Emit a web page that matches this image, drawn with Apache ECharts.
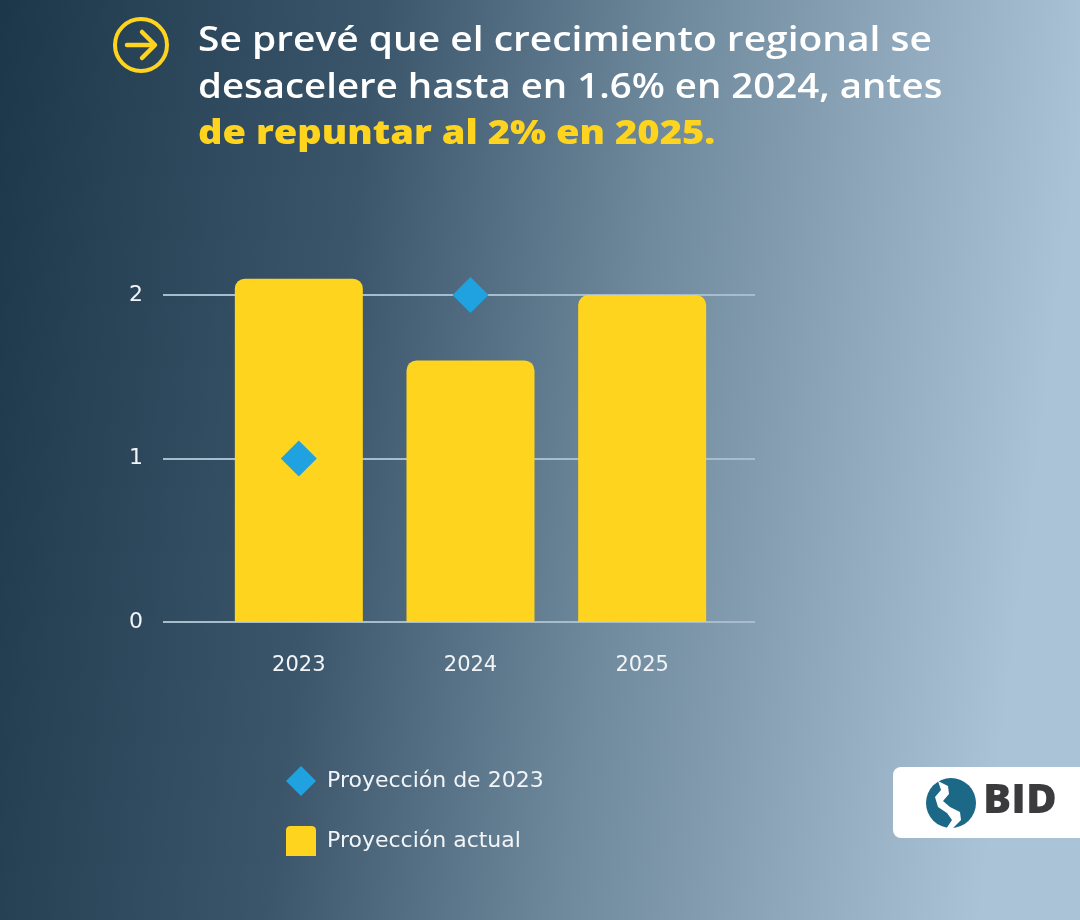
<!DOCTYPE html>
<html>
<head>
<meta charset="utf-8">
<title>Crecimiento regional</title>
<script src="https://cdn.jsdelivr.net/npm/echarts@6/dist/echarts.min.js"></script>
<style>
  html, body { margin: 0; padding: 0; }
  #chart { width: 1080px; height: 920px; }
</style>
</head>
<body>
<div id="chart"></div>
<script>
const categories = ['2023', '2024', '2025']
const proyeccionActual = [2.1, 1.6, 2.0]
const proyeccion2023 = [1.0, 2.0, null]
const titleLines = [
  'Se prevé que el crecimiento regional se',
  'desacelere hasta en 1.6% en 2024, antes',
  'de repuntar al 2% en 2025.'
]

const FONT = '"Open Sans", "Noto Sans", sans-serif'
const LABEL_FONT = '"DejaVu Sans", "Open Sans", sans-serif'
const YELLOW = '#ffd41f'
const BLUE = '#1fa2df'

let myChart = echarts.init(document.getElementById('chart'))

myChart.setOption({
  animation: false,
  textStyle: { fontFamily: LABEL_FONT },
  // grid 0 only carries the long gridlines and y labels, grid 1 carries the bars
  grid: [
    { left: 163, right: 325, top: 295, bottom: 298 },
    { left: 213, right: 352, top: 295, bottom: 298 }
  ],
  xAxis: [
    { gridIndex: 0, type: 'category', data: categories, show: false },
    {
      gridIndex: 1,
      type: 'category',
      data: categories,
      axisLine: { show: false },
      axisTick: { show: false },
      axisLabel: { color: '#f2f5f8', fontSize: 21, fontFamily: LABEL_FONT, margin: 33 }
    }
  ],
  yAxis: [
    {
      gridIndex: 0,
      type: 'value',
      min: 0,
      max: 2,
      interval: 1,
      axisLine: { show: false },
      axisTick: { show: false },
      axisLabel: { color: '#f2f5f8', fontSize: 22, fontFamily: LABEL_FONT, margin: 20 },
      splitLine: { lineStyle: { color: '#a7bccd', width: 2 } }
    },
    { gridIndex: 1, type: 'value', min: 0, max: 2, show: false }
  ],
  legend: {
    orient: 'vertical',
    left: 281,
    top: 761,
    itemGap: 30,
    itemWidth: 30,
    itemHeight: 30,
    textStyle: { color: '#f2f5f8', fontSize: 22, fontFamily: LABEL_FONT, padding: [0, 0, 0, 6] },
    data: [
      { name: 'Proyección de 2023', icon: 'diamond' },
      { name: 'Proyección actual', icon: 'path://M4,0 L22,0 Q26,0 26,4 L26,26 L0,26 L0,4 Q0,0 4,0 Z' }
    ]
  },
  series: [
    {
      name: 'Proyección actual',
      type: 'bar',
      xAxisIndex: 1,
      yAxisIndex: 1,
      data: proyeccionActual,
      barWidth: 128,
      clip: false,
      itemStyle: { color: YELLOW, borderRadius: [10, 10, 0, 0] },
      z: 2
    },
    {
      name: 'Proyección de 2023',
      type: 'scatter',
      xAxisIndex: 1,
      yAxisIndex: 1,
      data: proyeccion2023,
      symbol: 'diamond',
      symbolSize: [36, 36],
      clip: false,
      itemStyle: { color: BLUE, opacity: 1 },
      z: 3
    }
  ],
  graphic: [
    {
      type: 'rect',
      z: -10,
      silent: true,
      shape: { x: 0, y: 0, width: 1080, height: 920 },
      style: {
        fill: new echarts.graphic.LinearGradient(0, 0, 1, 0.15, [
          { offset: 0, color: '#1d374a' },
          { offset: 0.35, color: '#3b566b' },
          { offset: 0.62, color: '#6f899d' },
          { offset: 1, color: '#abc3d6' }
        ])
      }
    },
    // arrow icon
    {
      type: 'circle',
      shape: { cx: 141, cy: 45, r: 26 },
      style: { fill: 'none', stroke: YELLOW, lineWidth: 4 }
    },
    {
      type: 'polyline',
      shape: { points: [[127, 45], [154, 45]] },
      style: { stroke: YELLOW, lineWidth: 4.5, lineCap: 'round' }
    },
    {
      type: 'polyline',
      shape: { points: [[142, 32], [155, 45], [142, 58]] },
      style: { fill: 'none', stroke: YELLOW, lineWidth: 4.5, lineCap: 'round', lineJoin: 'round' }
    },
    // title lines, stretched to the wider face of the original
    {
      type: 'text',
      x: 198,
      y: 24,
      scaleX: 1.145,
      style: { text: titleLines[0], fill: '#ffffff', font: '600 34px ' + FONT, verticalAlign: 'top' }
    },
    {
      type: 'text',
      x: 198,
      y: 71,
      scaleX: 1.13,
      style: { text: titleLines[1], fill: '#ffffff', font: '600 34px ' + FONT, verticalAlign: 'top' }
    },
    {
      type: 'text',
      x: 198,
      y: 117,
      scaleX: 1.12,
      style: { text: titleLines[2], fill: YELLOW, font: '800 34px ' + FONT, verticalAlign: 'top' }
    },
    // BID logo
    {
      type: 'rect',
      shape: { x: 893, y: 767, width: 200, height: 71, r: 8 },
      style: { fill: '#ffffff' }
    },
    {
      type: 'circle',
      shape: { cx: 951, cy: 803, r: 25 },
      style: { fill: '#1b6887' }
    },
    {
      type: 'polygon',
      shape: {
        points: [[938, 781], [948, 786], [949, 794], [943, 801], [950, 807], [960, 812], [961, 820], [952, 829], [946, 829], [952, 820], [947, 813], [938, 807], [935, 797], [941, 790], [938, 781]]
      },
      style: { fill: '#ffffff' }
    },
    {
      type: 'text',
      x: 983,
      y: 782,
      scaleX: 1.05,
      style: { text: 'BID', fill: '#3b3b3d', font: '800 40px ' + FONT, verticalAlign: 'top' }
    }
  ]
})
</script>
</body>
</html>
